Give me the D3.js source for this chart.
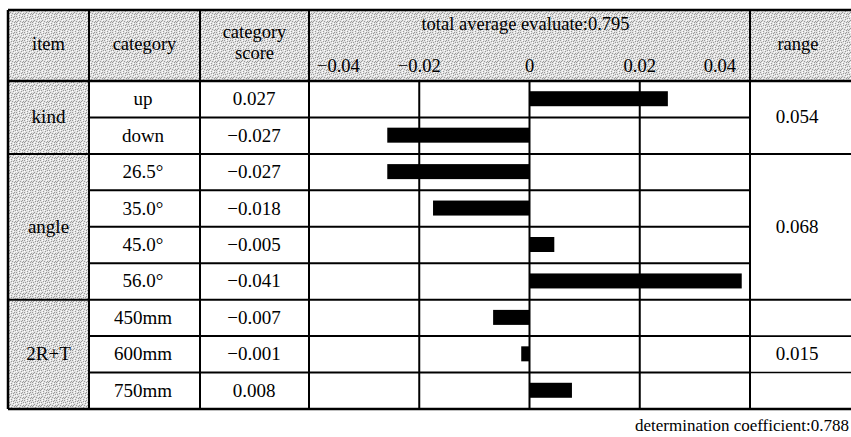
<!DOCTYPE html>
<html>
<head>
<meta charset="utf-8">
<script src="https://cdn.jsdelivr.net/npm/d3@7"></script>
<style>
  body { margin: 0; background: #fff; }
  svg { display: block; }
  svg text { font-family: "Liberation Serif", "Times New Roman", "DejaVu Serif", serif; fill: #000; }
</style>
</head>
<body>
<svg id="chart" width="851" height="437"></svg>
<script>
// data
const items = ["kind", "angle", "2R+T"]
const itemRange = [0.054, 0.068, 0.015]
const categories = ["up", "down", "26.5°", "35.0°", "45.0°", "56.0°", "450mm", "600mm", "750mm"]
const categoryItem = ["kind", "kind", "angle", "angle", "angle", "angle", "2R+T", "2R+T", "2R+T"]
const categoryScore = [0.027, -0.027, -0.027, -0.018, -0.005, -0.041, -0.007, -0.001, 0.008]
// bar lengths as drawn (56.0° bar is drawn to the right in the source)
const barValue = [0.0251, -0.0258, -0.0258, -0.0175, 0.0045, 0.0385, -0.0066, -0.0015, 0.0077]
const xTicks = [-0.04, -0.02, 0, 0.02, 0.04]
const totalAverage = 0.795
const determination = 0.788

const svg = d3.select("#chart")
const fmt = d3.format(".3f")

// column edges
const colItem = [8, 89], colCat = [89, 200], colScore = [200, 309], colChart = [309, 750], colRange = [750, 860]
const tableTop = 10, headBottom = 81, tableBottom = 409

const x = d3.scaleLinear().domain([-0.04, 0.04]).range(colChart)
const y = d3.scaleBand().domain(categories).range([headBottom, tableBottom])

// dithered grey like the scan
const defs = svg.append("defs")
const pat = defs.append("pattern")
    .attr("id", "dither")
    .attr("patternUnits", "userSpaceOnUse")
    .attr("width", 8).attr("height", 8)
pat.append("rect").attr("width", 8).attr("height", 8).attr("fill", "#e2e2e2")
const darkDots = [[0, 0], [3, 1], [6, 0], [1, 2], [5, 3], [7, 2], [2, 4], [4, 5], [0, 6], [6, 6], [3, 7], [7, 5], [1, 5], [5, 1]]
const lightDots = [[2, 0], [4, 2], [0, 3], [6, 4], [2, 6], [5, 7]]
darkDots.forEach(([dx, dy]) => {
    pat.append("rect").attr("x", dx).attr("y", dy).attr("width", 1).attr("height", 1).attr("fill", "#9a9a9a")
})
lightDots.forEach(([dx, dy]) => {
    pat.append("rect").attr("x", dx).attr("y", dy).attr("width", 1).attr("height", 1).attr("fill", "#ffffff")
})

// grey fills: header row and item column
svg.append("rect")
    .attr("x", colItem[0]).attr("y", tableTop)
    .attr("width", colRange[1] - colItem[0]).attr("height", headBottom - tableTop)
    .attr("fill", "url(#dither)")
svg.append("rect")
    .attr("x", colItem[0]).attr("y", headBottom)
    .attr("width", colItem[1] - colItem[0]).attr("height", tableBottom - headBottom)
    .attr("fill", "url(#dither)")

// bars
svg.append("g").selectAll("rect.bar")
    .data(barValue)
    .join("rect")
    .attr("class", "bar")
    .attr("x", d => x(Math.min(0, d)))
    .attr("width", d => Math.abs(x(d) - x(0)))
    .attr("y", (d, i) => y(categories[i]) + y.bandwidth() / 2 - 8)
    .attr("height", 15)
    .attr("fill", "#000")

// item groups
const groups = items.map(name => {
    const cats = categories.filter((c, i) => categoryItem[i] === name)
    return { name, y0: y(cats[0]), y1: y(cats[cats.length - 1]) + y.bandwidth(), cats }
})

const lines = svg.append("g").attr("stroke", "#000").attr("stroke-width", 2).attr("fill", "none")
const hline = (x0, x1, yy) => lines.append("line").attr("x1", x0).attr("x2", x1).attr("y1", yy).attr("y2", yy)
const vline = (xx, y0, y1) => lines.append("line").attr("x1", xx).attr("x2", xx).attr("y1", y0).attr("y2", y1)

// row lines across category / score / chart columns
categories.forEach(c => hline(colCat[0], colChart[1], y(c)))
// group lines across item and range columns
groups.forEach((g, gi) => {
    hline(colItem[0], colItem[1], g.y0)
    hline(colRange[0], colRange[1], g.y0)
    if (gi === items.length - 1) {
        g.cats.slice(1).forEach(c => hline(colRange[0], colRange[1], y(c)).attr("stroke-width", 1.6))
    }
})
// chart grid
xTicks.slice(1, -1).forEach(t => vline(x(t), headBottom, tableBottom))
// column borders
;[colItem[1], colCat[1], colScore[1], colChart[1]].forEach(xx => vline(xx, tableTop, tableBottom))
// outer frame
hline(colItem[0], colRange[1], tableTop).attr("stroke-width", 2.5)
hline(colItem[0], colRange[1], headBottom).attr("stroke-width", 2.5)
hline(colItem[0], colRange[1], tableBottom).attr("stroke-width", 2.5)
vline(colItem[0], tableTop, tableBottom).attr("stroke-width", 2.5)

// header texts
const head = svg.append("g").attr("font-size", 18.5).attr("text-anchor", "middle")
head.append("text").attr("x", (colItem[0] + colItem[1]) / 2).attr("y", 50).text("item")
head.append("text").attr("x", (colCat[0] + colCat[1]) / 2).attr("y", 50).text("category")
head.append("text").attr("x", (colScore[0] + colScore[1]) / 2).attr("y", 38).text("category")
head.append("text").attr("x", (colScore[0] + colScore[1]) / 2).attr("y", 59).text("score")
head.append("text").attr("x", 798).attr("y", 50).text("range")
head.append("text").attr("x", x(0) - 4).attr("y", 30).text("total average evaluate:" + totalAverage)

// axis ticks inside the header
svg.append("g")
    .attr("font-size", 18.5)
    .selectAll("text.tick")
    .data(xTicks)
    .join("text")
    .attr("class", "tick")
    .attr("x", (d, i) => x(d) + (i === 0 ? 8 : i === xTicks.length - 1 ? -14 : 0))
    .attr("y", 72)
    .attr("text-anchor", (d, i) => i === 0 ? "start" : i === xTicks.length - 1 ? "end" : "middle")
    .text(d => d === 0 ? "0" : d3.format(".2f")(d))

// body texts
const body = svg.append("g").attr("font-size", 19).attr("text-anchor", "middle")
categories.forEach((c, i) => {
    const cy = y(c) + y.bandwidth() / 2 + 6
    body.append("text").attr("x", 143).attr("y", cy).text(c)
    body.append("text").attr("x", 254).attr("y", cy).text(fmt(categoryScore[i]))
})
groups.forEach((g, gi) => {
    const cy = (g.y0 + g.y1) / 2 + 6
    body.append("text").attr("x", (colItem[0] + colItem[1]) / 2).attr("y", cy).text(g.name)
    body.append("text").attr("x", 797).attr("y", cy).text(d3.format(".3f")(itemRange[gi]))
})

svg.append("text")
    .attr("x", 849).attr("y", 431)
    .attr("text-anchor", "end")
    .attr("font-size", 17)
    .text("determination coefficient:" + determination)
</script>
</body>
</html>
